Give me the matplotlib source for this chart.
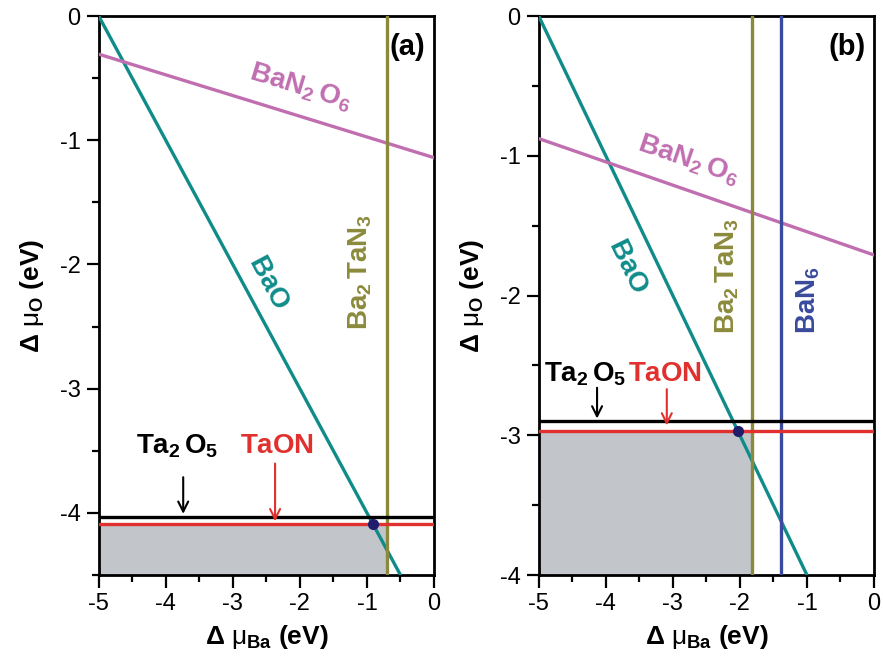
import matplotlib
matplotlib.use("Agg")
import matplotlib.pyplot as plt
import numpy as np

plt.rcParams['font.family'] = ['Liberation Sans', 'DejaVu Sans']
plt.rcParams['mathtext.fontset'] = 'custom'
plt.rcParams['mathtext.rm'] = 'Liberation Sans'
plt.rcParams['mathtext.bf'] = 'Liberation Sans:bold'
plt.rcParams['mathtext.it'] = 'Liberation Sans'

# --- data (eV) ---
x_range = [-5, 0]
# panel (a)
a_ylim = [-4.5, 0]
a_bao_c = -5.0          # d_mu_Ba + d_mu_O = c
a_ban2o6_y0 = -1.14     # y at d_mu_Ba = 0, slope -1/6
a_ba2tan3_x = -0.70
a_ta2o5_y = -4.03
a_taon_y = -4.09
a_point = [-0.91, -4.09]
# panel (b)
b_ylim = [-4, 0]
b_bao_c = -5.0
b_ban2o6_y0 = -1.71
b_ba2tan3_x = -1.82
b_ban6_x = -1.38
b_ta2o5_y = -2.90
b_taon_y = -2.97
b_point = [-2.03, -2.97]

c_bao = '#0f8c8a'
c_ban2o6 = '#c06eb0'
c_ba2tan3 = '#8b8a3c'
c_ban6 = '#3a4a9c'
c_taon = '#e0312f'
c_fill = '#c2c5ca'
c_dot = '#221c6c'
lw = 2.4
fs_lab = 20

fig = plt.figure(figsize=(8.83, 6.66), dpi=100)
axa = fig.add_axes([0.1118, 0.1366, 0.3797, 0.8393])
axb = fig.add_axes([0.6101, 0.1366, 0.3797, 0.8393])


def style(ax, ylim):
    ax.set_xlim(x_range)
    ax.set_ylim(ylim)
    ax.set_xticks(np.arange(-5, 0.1, 1))
    ax.set_xticks(np.arange(-4.5, 0, 1), minor=True)
    ax.set_yticks(np.arange(-4, 0.1, 1))
    ax.set_yticks(np.arange(ylim[0], 0, 0.5), minor=True)
    ax.set_xticklabels(['-5', '-4', '-3', '-2', '-1', '0'])
    ax.set_yticklabels([str(int(v)) for v in ax.get_yticks()])
    ax.tick_params(which='major', direction='out', length=9, width=1.6, labelsize=17, pad=4)
    ax.tick_params(which='minor', direction='out', length=5, width=1.6)
    for s in ax.spines.values():
        s.set_linewidth(2)
    ax.set_xlabel(r'$\mathbf{\Delta}\ \mu_{\mathbf{Ba}}$ (eV)', fontsize=19, fontweight='bold', labelpad=6)
    ax.set_ylabel(r'$\mathbf{\Delta}\ \mu_{\mathbf{O}}$ (eV)', fontsize=19, fontweight='bold', labelpad=10)


xs = np.array(x_range, dtype=float)

# panel (a)
ax = axa
style(ax, a_ylim)
ax.fill_between([x_range[0], a_ba2tan3_x], a_ylim[0], a_taon_y, color=c_fill, lw=0, zorder=1)
ax.plot(xs, a_bao_c - xs, color=c_bao, lw=lw, zorder=3)
ax.plot(xs, a_ban2o6_y0 - xs / 6, color=c_ban2o6, lw=lw, zorder=3)
ax.axvline(a_ba2tan3_x, color=c_ba2tan3, lw=lw, zorder=3)
ax.axhline(a_ta2o5_y, color='black', lw=lw, zorder=3)
ax.axhline(a_taon_y, color=c_taon, lw=lw, zorder=3)
ax.plot(*a_point, 'o', color=c_dot, ms=7, zorder=5)
ax.text(0.975, 0.945, '(a)', transform=ax.transAxes, ha='right', va='center', fontsize=21, fontweight='bold')
ax.text(-2.0, -0.57, r'$\mathbf{BaN_2\,O_6}$', color=c_ban2o6, fontsize=fs_lab, rotation=-17, ha='center', va='center')
ax.text(-2.47, -2.14, r'$\mathbf{BaO}$', color=c_bao, fontsize=fs_lab, rotation=-62, ha='center', va='center')
ax.text(-1.1, -2.06, r'$\mathbf{Ba_2\,TaN_3}$', color=c_ba2tan3, fontsize=fs_lab, rotation=90, ha='center', va='center')
ax.text(-3.83, -3.46, r'$\mathbf{Ta_2\,O_5}$', color='black', fontsize=fs_lab, ha='center', va='center')
ax.text(-2.34, -3.46, r'$\mathbf{TaON}$', color=c_taon, fontsize=fs_lab, ha='center', va='center')
ax.annotate('', xy=(-3.74, a_ta2o5_y), xytext=(-3.74, -3.69),
            arrowprops=dict(arrowstyle='->', color='black', lw=1.5, mutation_scale=18))
ax.annotate('', xy=(-2.37, a_taon_y), xytext=(-2.37, -3.58),
            arrowprops=dict(arrowstyle='->', color=c_taon, lw=1.5, mutation_scale=18))

# panel (b)
ax = axb
style(ax, b_ylim)
ax.fill_between([x_range[0], b_ba2tan3_x], b_ylim[0], b_taon_y, color=c_fill, lw=0, zorder=1)
ax.plot(xs, b_bao_c - xs, color=c_bao, lw=lw, zorder=3)
ax.plot(xs, b_ban2o6_y0 - xs / 6, color=c_ban2o6, lw=lw, zorder=3)
ax.axvline(b_ba2tan3_x, color=c_ba2tan3, lw=lw, zorder=3)
ax.axvline(b_ban6_x, color=c_ban6, lw=lw, zorder=3)
ax.axhline(b_ta2o5_y, color='black', lw=lw, zorder=3)
ax.axhline(b_taon_y, color=c_taon, lw=lw, zorder=3)
ax.plot(*b_point, 'o', color=c_dot, ms=7, zorder=5)
ax.text(0.975, 0.945, '(b)', transform=ax.transAxes, ha='right', va='center', fontsize=21, fontweight='bold')
ax.text(-2.77, -1.03, r'$\mathbf{BaN_2\,O_6}$', color=c_ban2o6, fontsize=fs_lab, rotation=-19, ha='center', va='center')
ax.text(-3.67, -1.79, r'$\mathbf{BaO}$', color=c_bao, fontsize=fs_lab, rotation=-64, ha='center', va='center')
ax.text(-2.19, -1.86, r'$\mathbf{Ba_2\,TaN_3}$', color=c_ba2tan3, fontsize=fs_lab, rotation=90, ha='center', va='center')
ax.text(-0.98, -2.03, r'$\mathbf{BaN_6}$', color=c_ban6, fontsize=fs_lab, rotation=90, ha='center', va='center')
ax.text(-4.31, -2.56, r'$\mathbf{Ta_2\,O_5}$', color='black', fontsize=fs_lab, ha='center', va='center')
ax.text(-3.11, -2.56, r'$\mathbf{TaON}$', color=c_taon, fontsize=fs_lab, ha='center', va='center')
ax.annotate('', xy=(-4.13, b_ta2o5_y), xytext=(-4.13, -2.64),
            arrowprops=dict(arrowstyle='->', color='black', lw=1.5, mutation_scale=18))
ax.annotate('', xy=(-3.09, b_taon_y + 0.02), xytext=(-3.09, -2.65),
            arrowprops=dict(arrowstyle='->', color=c_taon, lw=1.5, mutation_scale=18))

fig.savefig('out.png', dpi=100)
